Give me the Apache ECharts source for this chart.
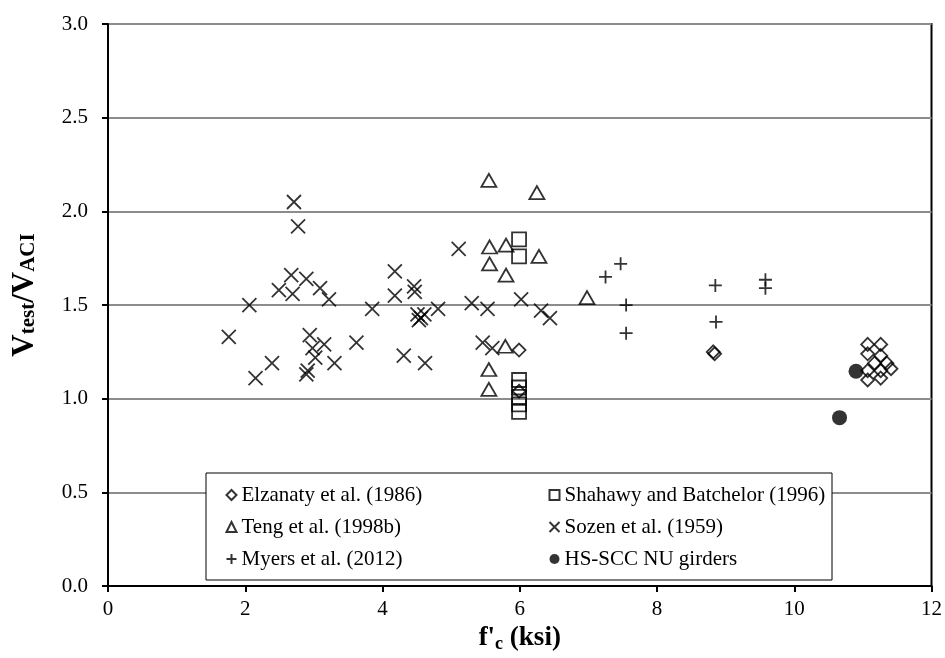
<!DOCTYPE html>
<html>
<head>
<meta charset="utf-8">
<script src="https://cdn.jsdelivr.net/npm/echarts@6/dist/echarts.min.js"></script>
<style>
  html, body { margin: 0; padding: 0; background: #fff; }
  #main { width: 945px; height: 658px; }
</style>
</head>
<body>
<div id="main"></div>
<script>
// f'c (ksi) and Vtest/VACI for each data set
var elzanatyX = [5.99, 5.99, 8.82, 8.84, 11.07, 11.26, 11.07, 11.26, 11.17, 11.35, 11.07, 11.26, 11.41, 11.07, 11.26];
var elzanatyY = [1.26, 1.04, 1.25, 1.24, 1.29, 1.29, 1.24, 1.23, 1.19, 1.19, 1.15, 1.15, 1.16, 1.10, 1.11];

var shahawyX = [5.99, 5.99, 5.99, 5.99, 5.99, 5.99, 5.99];
var shahawyY = [1.85, 1.76, 1.10, 1.06, 1.01, 0.97, 0.93];

var tengX = [5.55, 6.25, 5.56, 5.80, 5.56, 5.80, 6.28, 5.79, 5.55, 5.55, 6.98];
var tengY = [2.165, 2.10, 1.81, 1.82, 1.72, 1.66, 1.76, 1.28, 1.156, 1.05, 1.54];

var sozenX = [2.71, 2.77, 2.67, 2.89, 2.49, 2.69, 3.09, 3.22, 2.06, 1.76, 2.94, 3.15, 2.98, 3.02, 3.30, 2.39, 2.15, 2.89, 2.91,
              3.85, 3.62, 4.18, 4.18, 4.46, 4.47, 4.51, 4.56, 4.53, 4.61, 4.81, 4.31, 4.62, 5.11, 5.30, 5.53, 5.46, 5.60, 6.02, 6.31, 6.44];
var sozenY = [2.05, 1.92, 1.66, 1.64, 1.58, 1.56, 1.59, 1.53, 1.50, 1.33, 1.34, 1.29, 1.27, 1.22, 1.19, 1.19, 1.11, 1.13, 1.15,
              1.48, 1.30, 1.68, 1.55, 1.60, 1.57, 1.45, 1.43, 1.42, 1.45, 1.48, 1.23, 1.19, 1.80, 1.51, 1.48, 1.30, 1.27, 1.53, 1.47, 1.43];

var myersX = [7.47, 7.25, 7.55, 7.55, 8.85, 8.86, 9.58, 9.58];
var myersY = [1.72, 1.65, 1.50, 1.35, 1.605, 1.41, 1.635, 1.59];

var hsSccX = [10.90, 10.66];
var hsSccY = [1.147, 0.899];

var yTicks = ['0.0', '0.5', '1.0', '1.5', '2.0', '2.5', '3.0'];

function pairs(xs, ys) {
    var out = [];
    for (var i = 0; i < xs.length; i++) {
        out.push([xs[i], ys[i]]);
    }
    return out;
}

var serif = 'Liberation Serif';
var crossPath = 'path://M0,0L10,10M10,0L0,10';
var plusPath = 'path://M5,0L5,10M0,5L10,5';

function openStyle(w) {
    return { color: 'none', borderColor: '#000', borderWidth: w };
}

var legendText = { fontFamily: serif, fontSize: 21, color: '#000', lineHeight: 22 };

var myChart = echarts.init(document.getElementById('main'));
var option = {
    animation: false,
    backgroundColor: '#fff',
    grid: {
        left: 108, right: 11, top: 24, bottom: 71,
        show: true, borderColor: '#000', borderWidth: 2
    },
    xAxis: {
        type: 'value',
        min: 0, max: 12, interval: 2,
        name: '{b|f\'}{s|c}{b| (ksi)}',
        nameLocation: 'middle',
        nameGap: 36,
        nameTextStyle: {
            rich: {
                b: { fontFamily: serif, fontSize: 27, fontWeight: 'bold', color: '#000', lineHeight: 28, verticalAlign: 'top' },
                s: { fontFamily: serif, fontSize: 18, fontWeight: 'bold', color: '#000', lineHeight: 12, verticalAlign: 'bottom' }
            }
        },
        axisLine: { lineStyle: { color: '#000', width: 2 } },
        axisTick: { length: 6, lineStyle: { color: '#000', width: 2 } },
        axisLabel: { fontFamily: serif, fontSize: 21, color: '#000', margin: 13 },
        splitLine: { show: false }
    },
    yAxis: {
        type: 'value',
        min: 0, max: 3, interval: 0.5,
        name: '{b|V}{s|test}{b|/V}{s|ACI}',
        nameLocation: 'middle',
        nameGap: 69,
        nameTextStyle: {
            padding: [0, 0, 0, 20],
            rich: {
                b: { fontFamily: serif, fontSize: 31, fontWeight: 'bold', color: '#000', lineHeight: 30, verticalAlign: 'top' },
                s: { fontFamily: serif, fontSize: 21, fontWeight: 'bold', color: '#000', lineHeight: 14, verticalAlign: 'bottom' }
            }
        },
        axisLine: { lineStyle: { color: '#000', width: 2 } },
        axisTick: { length: 6, lineStyle: { color: '#000', width: 2 } },
        axisLabel: {
            fontFamily: serif, fontSize: 21, color: '#000', margin: 20,
            formatter: function (v) { return yTicks[Math.round(v * 2)]; }
        },
        splitLine: { lineStyle: { color: '#8c8c8c', width: 2 } }
    },
    // white legend box with a thin frame
    graphic: [{
        type: 'rect',
        z: 5,
        shape: { x: 206, y: 473, width: 626, height: 107 },
        style: { fill: '#fff', stroke: '#000', lineWidth: 1 }
    }],
    legend: [{
        orient: 'vertical',
        left: 224, top: 484,
        padding: 0, itemGap: 10,
        itemWidth: 10, itemHeight: 10,
        z: 10,
        textStyle: legendText,
        data: ['Elzanaty et al. (1986)', 'Teng et al. (1998b)', 'Myers et al. (2012)']
    }, {
        orient: 'vertical',
        left: 547, top: 484,
        padding: 0, itemGap: 10,
        itemWidth: 10, itemHeight: 10,
        z: 10,
        textStyle: legendText,
        data: ['Shahawy and Batchelor (1996)', 'Sozen et al. (1959)', 'HS-SCC NU girders']
    }],
    series: [
        {
            name: 'Elzanaty et al. (1986)', type: 'scatter',
            symbol: 'diamond', symbolSize: 13,
            itemStyle: openStyle(1.8),
            data: pairs(elzanatyX, elzanatyY)
        },
        {
            name: 'Shahawy and Batchelor (1996)', type: 'scatter',
            symbol: 'rect', symbolSize: 14,
            itemStyle: openStyle(1.8),
            data: pairs(shahawyX, shahawyY)
        },
        {
            name: 'Teng et al. (1998b)', type: 'scatter',
            symbol: 'triangle', symbolSize: [15, 13],
            itemStyle: openStyle(1.8),
            data: pairs(tengX, tengY)
        },
        {
            name: 'Sozen et al. (1959)', type: 'scatter',
            symbol: crossPath, symbolSize: 14,
            itemStyle: openStyle(1.8),
            data: pairs(sozenX, sozenY)
        },
        {
            name: 'Myers et al. (2012)', type: 'scatter',
            symbol: plusPath, symbolSize: 13,
            itemStyle: openStyle(1.8),
            data: pairs(myersX, myersY)
        },
        {
            name: 'HS-SCC NU girders', type: 'scatter',
            symbol: 'circle', symbolSize: 15,
            itemStyle: { color: '#000' },
            data: pairs(hsSccX, hsSccY)
        }
    ]
};
myChart.setOption(option);
</script>
</body>
</html>
